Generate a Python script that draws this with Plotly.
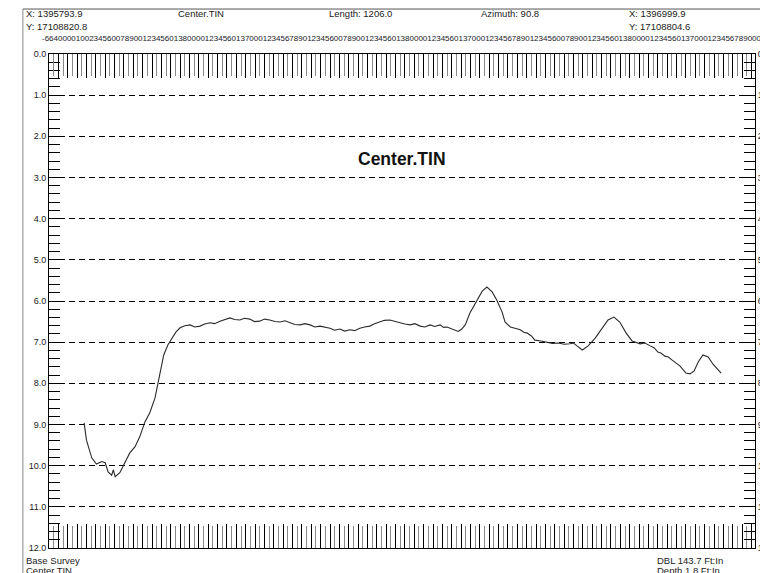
import plotly.graph_objects as go

# profile along the line (distance ft, depth ft)
distance = [60, 64, 73, 81, 90, 96, 101, 107, 110, 113, 121, 130, 138, 147, 155,
            164, 172, 181, 187, 191, 196, 203, 210, 217,
            224, 232, 241, 249, 258, 266, 275, 283, 292, 300, 309, 317, 326, 334,
            343, 351, 360, 368, 377, 386, 395, 403, 412, 420, 429, 437, 446, 454,
            463, 471, 480, 488, 497, 505, 514, 522, 531, 539, 548, 556, 565, 573,
            582, 591, 600, 608, 617, 625, 634, 642, 651, 659, 668, 674, 680, 690,
            699, 705, 711, 719, 731, 740, 748, 757, 765, 774,
            779, 788, 796, 805, 811, 817, 824, 830, 840, 851, 860, 870, 880, 890,
            896, 902, 911, 921, 933, 945, 955, 965, 975, 986, 996,
            1010, 1018, 1027, 1034, 1040, 1046, 1052, 1058, 1064, 1071, 1078,
            1088, 1095, 1102, 1109, 1117, 1126, 1134, 1143, 1148]
depth = [8.96, 9.38, 9.81, 9.96, 9.90, 9.93, 10.15, 10.23, 10.10, 10.27, 10.17,
         9.93, 9.69, 9.54, 9.30, 8.93, 8.72, 8.36, 7.92, 7.68, 7.31, 7.07, 6.90,
         6.75,
         6.65, 6.60, 6.58, 6.63, 6.61, 6.56, 6.53, 6.55, 6.49, 6.46, 6.41, 6.45,
         6.46, 6.42, 6.44, 6.50, 6.49, 6.44, 6.46, 6.50, 6.51, 6.48, 6.53, 6.57,
         6.58, 6.55, 6.58, 6.63, 6.61, 6.64, 6.66, 6.71, 6.68, 6.73, 6.70, 6.72,
         6.66, 6.63, 6.61, 6.55, 6.51, 6.47, 6.46, 6.50, 6.53, 6.56, 6.58, 6.55,
         6.61, 6.63, 6.58, 6.62, 6.58, 6.64, 6.63, 6.69, 6.74, 6.68, 6.58, 6.29,
         5.98, 5.76, 5.66, 5.78, 5.98, 6.27,
         6.51, 6.63, 6.66, 6.70, 6.76, 6.78, 6.85, 6.95, 6.97, 7.00, 7.03, 7.02,
         7.05, 7.04, 7.02, 7.09, 7.19, 7.09, 6.90, 6.66, 6.46, 6.39, 6.51, 6.78,
         6.97,
         7.04, 7.02, 7.09, 7.14, 7.24, 7.27, 7.34, 7.36, 7.43, 7.50, 7.58,
         7.75, 7.77, 7.70, 7.48, 7.31, 7.36, 7.53, 7.68, 7.75]

depth_ticks = [0, 1, 2, 3, 4, 5, 6, 7, 8, 9, 10, 11, 12]
depth_labels = ["0.0", "1.0", "2.0", "3.0", "4.0", "5.0", "6.0", "7.0", "8.0",
                "9.0", "10.0", "11.0", "12.0"]
line_length = 1206.0

header = [("X: 1395793.9", -0.036, 1.081), ("Center.TIN", 0.18, 1.081),
          ("Length: 1206.0", 0.394, 1.081), ("Azimuth: 90.8", 0.609, 1.081),
          ("X: 1396999.9", 0.819, 1.081), ("Y: 17108820.8", -0.036, 1.055),
          ("Y: 17108804.6", 0.819, 1.055)]
footer = [("Base Survey", -0.036, -0.026), ("Center.TIN", -0.036, -0.046),
          ("DBL 143.7 Ft:In", 0.858, -0.026), ("Depth 1.8 Ft:In", 0.858, -0.046)]
station_text = ("-664000010023456007890012345601380000123456013700012345678901234560"
                "0789001234560138000012345601370001234567890123456007890012345601380"
                "0001234560137000123456789000")

fig = go.Figure()
fig.add_trace(go.Scatter(x=distance, y=depth, mode="lines",
                         line=dict(color="#2a2a2a", width=1.1), showlegend=False))
# ghost trace so the mirrored axes get drawn
fig.add_trace(go.Scatter(x=distance, y=depth, mode="lines", xaxis="x2", yaxis="y2",
                         line=dict(color="rgba(0,0,0,0)", width=0),
                         hoverinfo="skip", showlegend=False))

comb = dict(range=[0, line_length], showticklabels=False, ticks="inside",
            ticklen=24, tickcolor="black", tickwidth=1, tick0=0, dtick=16,
            minor=dict(ticks="inside", ticklen=22, tickcolor="#888888", dtick=8),
            showgrid=False, zeroline=False, showline=True, linecolor="black",
            automargin=False)
depth_axis = dict(range=[12, 0], tickvals=depth_ticks, ticktext=depth_labels,
                  ticks="inside", ticklen=14, tickcolor="black",
                  minor=dict(ticks="inside", ticklen=11, tickcolor="black",
                             tick0=0, dtick=0.2),
                  showline=True, linecolor="black", zeroline=False,
                  automargin=False, tickfont=dict(size=9, color="#222"))

# page body adds an 8px offset, margins compensate for it
fig.update_layout(
    width=768, height=573,
    margin=dict(l=41, r=21, t=46, b=33),
    paper_bgcolor="white", plot_bgcolor="white",
    font=dict(family="Liberation Sans, Arial, sans-serif", size=9, color="#222"),
    xaxis=dict(**comb, mirror=True),
    xaxis2=dict(**comb, overlaying="x", side="top"),
    yaxis=dict(**depth_axis, mirror=True, showgrid=True, gridcolor="black",
               gridwidth=1, griddash="6px,4px"),
    yaxis2=dict(**depth_axis, overlaying="y", side="right", showgrid=False),
)

for txt, x, y in header + footer:
    fig.add_annotation(text=txt, x=x, y=y, xref="paper", yref="paper",
                       xanchor="left", yanchor="middle", showarrow=False,
                       font=dict(size=9.5, color="#222"))
fig.add_annotation(text=station_text, x=-0.013, y=1.032, xref="paper", yref="paper",
                   xanchor="left", yanchor="middle", showarrow=False,
                   font=dict(size=8, color="#1a1a2a"))
fig.add_annotation(text="<b>Center.TIN</b>", x=0.5, y=0.812, xref="paper",
                   yref="paper", showarrow=False,
                   font=dict(size=17.5, color="#111"))

# outer frame lines
fig.add_shape(type="line", xref="paper", yref="paper", x0=-0.037, x1=1.03,
              y0=1.091, y1=1.091, line=dict(color="#555", width=1))
fig.add_shape(type="line", xref="paper", yref="paper", x0=-0.037, x1=-0.037,
              y0=-0.07, y1=1.091, line=dict(color="#888", width=1))

fig.write_html("out.html")
